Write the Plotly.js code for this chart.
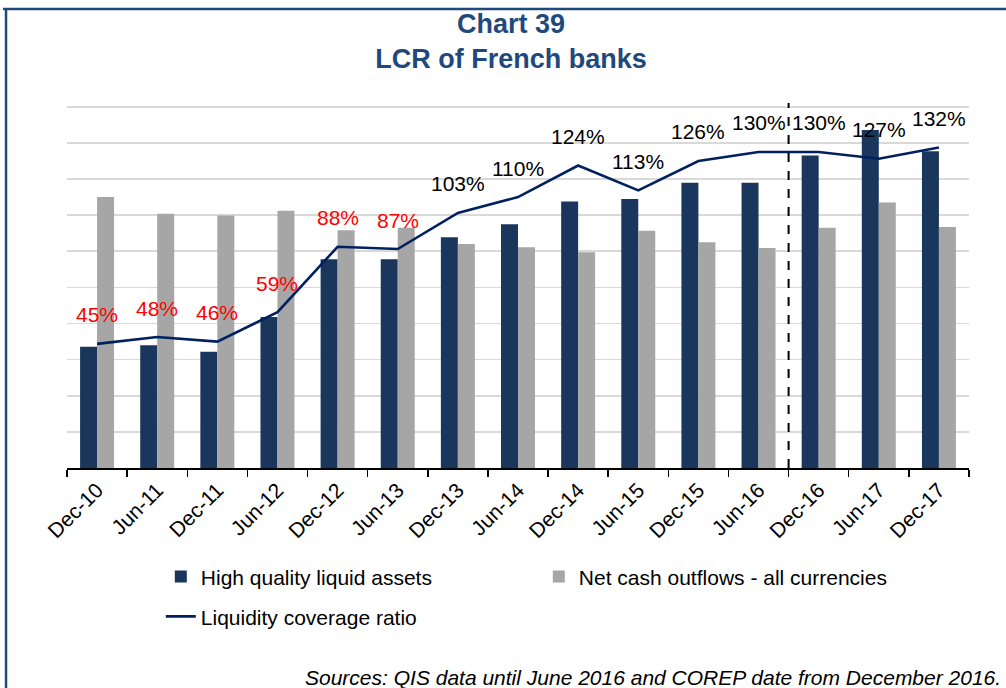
<!DOCTYPE html>
<html>
<head>
<meta charset="utf-8">
<script src="https://cdn.plot.ly/plotly-3.0.1.min.js"></script>
<style>
  html, body { margin: 0; padding: 0; background: #ffffff; }
  #chart { width: 1006px; height: 688px; }
</style>
</head>
<body>
<div id="chart"></div>
<script>
// ---- Data (bar units are relative, axis unlabeled) ----
const periods = ["Dec-10","Jun-11","Dec-11","Jun-12","Dec-12","Jun-13","Dec-13","Jun-14",
                 "Dec-14","Jun-15","Dec-15","Jun-16","Dec-16","Jun-17","Dec-17"];
const hqla = [336, 340, 322, 418, 578, 578, 639, 675, 738, 745, 790, 790, 865, 936, 877];
const netOutflows = [750, 704, 699, 712, 658, 665, 620, 611, 597, 657, 625, 609, 665, 735, 667];
const lcr = [45, 48, 46, 59, 88, 87, 103, 110, 124, 113, 126, 130, 130, 127, 132];
const lcrLabels = lcr.map(v => v + "%");
const seriesNames = ["High quality liquid assets", "Net cash outflows - all currencies", "Liquidity coverage ratio"];
const sourceNote = "Sources: QIS data until June 2016 and COREP date from December 2016.";

const FONT = "Liberation Sans, Arial, sans-serif";
const NAVY_BAR = "#1B365D";
const GREY_BAR = "#A6A6A6";
const LINE_COL = "#002060";
const TITLE_COL = "#1F497D";

const traces = [
  { type: "bar", name: seriesNames[0], x: periods, y: hqla,
    marker: { color: NAVY_BAR }, legend: "legend", hoverinfo: "x+y" },
  { type: "bar", name: seriesNames[1], x: periods, y: netOutflows,
    marker: { color: GREY_BAR }, legend: "legend", hoverinfo: "x+y" },
  { type: "scatter", mode: "lines", name: seriesNames[2], x: periods, y: lcr, yaxis: "y2",
    line: { color: LINE_COL, width: 2.6 }, legend: "legend2" }
];

const annotations = periods.map((p, i) => ({
  x: p, y: lcr[i], xref: "x", yref: "y2", yshift: 29, showarrow: false,
  text: lcrLabels[i],
  font: { family: FONT, size: 21, color: lcr[i] < 100 ? "#FF0000" : "#000000" }
}));
annotations.push({
  xref: "paper", yref: "paper", x: 1.0377, y: -0.5785, xanchor: "right", yanchor: "middle",
  showarrow: false, text: "<i>" + sourceNote + "</i>",
  font: { family: FONT, size: 21, color: "#000000" }
});

const layout = {
  width: 1006, height: 688,
  margin: { l: 67, r: 37, t: 105, b: 220 },
  paper_bgcolor: "#ffffff", plot_bgcolor: "#ffffff",
  font: { family: FONT, color: "#000000" },
  title: {
    text: "<b>Chart 39</b><br><b>LCR of French banks</b>",
    font: { family: FONT, size: 27, color: TITLE_COL },
    x: 0.508, xref: "container", xanchor: "center",
    y: 0.952, yref: "container", yanchor: "top"
  },
  barmode: "group", bargap: 0.435, bargroupgap: 0,
  xaxis: {
    type: "category", tickangle: -45, showline: true, linecolor: "#000000", linewidth: 1.5,
    ticks: "outside", tickson: "boundaries", ticklen: 7, tickcolor: "#000000", tickwidth: 1.5,
    showgrid: false, tickfont: { family: FONT, size: 21, color: "#000000" }, fixedrange: true
  },
  yaxis: {
    range: [0, 1005], tick0: 0, dtick: 100, showticklabels: false, ticks: "",
    showgrid: true, gridcolor: "#D9D9D9", gridwidth: 1.6, zeroline: false, showline: false, fixedrange: true
  },
  yaxis2: {
    overlaying: "y", side: "right", range: [-10, 150.8], visible: false, showgrid: false, fixedrange: true
  },
  showlegend: true,
  legend: {
    orientation: "h", x: 0.104, xanchor: "left", y: -0.2436, yanchor: "top",
    font: { family: FONT, size: 21, color: "#000000" }, entrywidth: 333, bgcolor: "rgba(0,0,0,0)"
  },
  legend2: {
    orientation: "h", x: 0.104, xanchor: "left", y: -0.3531, yanchor: "top",
    font: { family: FONT, size: 21, color: "#000000" }, bgcolor: "rgba(0,0,0,0)"
  },
  annotations: annotations,
  shapes: [
    // vertical dashed separator between QIS and COREP data
    { type: "line", xref: "x", yref: "paper", x0: 11.5, x1: 11.5, y0: 0, y1: 1.0055,
      line: { color: "#000000", width: 2, dash: "dash" } },
    // frame (top and left edges)
    { type: "line", xref: "paper", yref: "paper", x0: -0.0710, x1: 1.05, y0: 1.2645, y1: 1.2645,
      line: { color: TITLE_COL, width: 2.5 } },
    { type: "line", xref: "paper", yref: "paper", x0: -0.0676, x1: -0.0676, y0: 1.2645, y1: -0.62,
      line: { color: TITLE_COL, width: 2.5 } }
  ]
};

Plotly.newPlot("chart", traces, layout, { displayModeBar: false, staticPlot: true });
</script>
</body>
</html>
